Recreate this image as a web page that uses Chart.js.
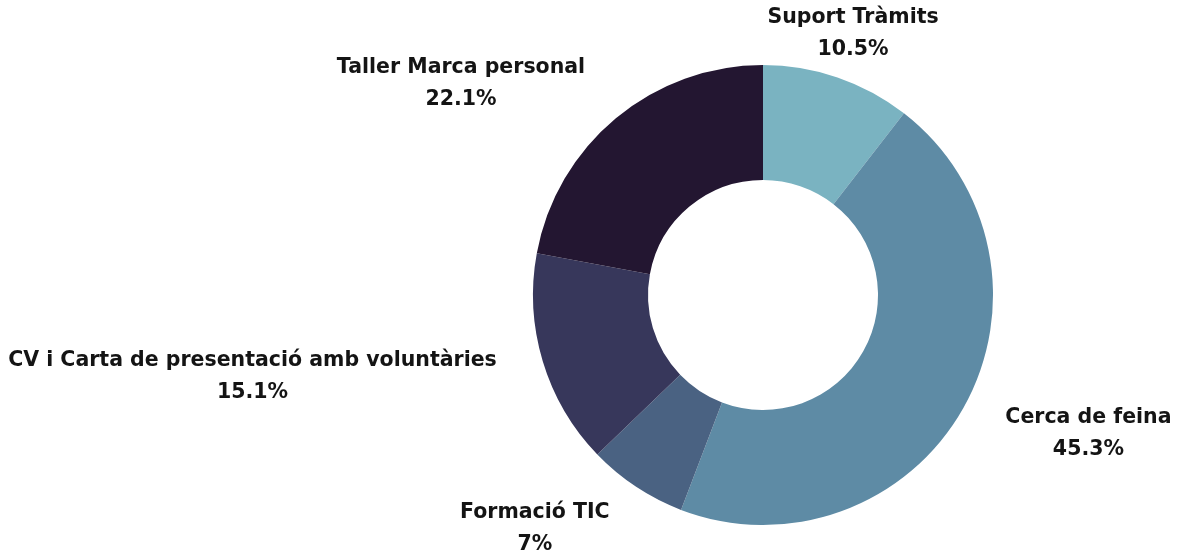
<!DOCTYPE html>
<html>
<head>
<meta charset="utf-8">
<script src="https://cdn.jsdelivr.net/npm/chart.js@4.4.1/dist/chart.umd.min.js"></script>
<style>
    html, body { margin: 0; padding: 0; background: #fff; }
    #wrap { width: 1188px; height: 556px; position: relative; }
</style>
</head>
<body>
<div id="wrap"><canvas id="serveisChart"></canvas></div>
<script>
const categories = ["Suport Tràmits", "Cerca de feina", "Formació TIC", "CV i Carta de presentació amb voluntàries", "Taller Marca personal"];
const percentages = [10.5, 45.3, 7, 15.1, 22.1];
const sliceColors = ["#7AB3C1", "#5E8BA5", "#4A6282", "#37375B", "#231631"];

const labelFont = "bold 20.5px 'DejaVu Sans', sans-serif";

// draws the two-line label outside each slice
const outsideLabels = {
    id: "outsideLabels",
    afterDatasetsDraw(chart) {
        const ctx = chart.ctx;
        const arcs = chart.getDatasetMeta(0).data;
        ctx.save();
        ctx.font = labelFont;
        ctx.fillStyle = "#141414";
        ctx.textBaseline = "middle";
        arcs.forEach(function (arc, i) {
            const p = arc.getProps(["x", "y", "startAngle", "endAngle", "outerRadius"], true);
            const mid = (p.startAngle + p.endAngle) / 2;
            const ux = Math.cos(mid);
            const uy = Math.sin(mid);
            const dist = p.outerRadius + 48;
            const px = p.x + ux * dist;
            const py = p.y + uy * dist + 2;
            if (Math.abs(ux) < 0.45) {
                ctx.textAlign = "center";
            } else {
                ctx.textAlign = ux > 0 ? "left" : "right";
            }
            const first = ctx.measureText(categories[i]).width;
            const second = ctx.measureText(percentages[i] + "%").width;
            let x2 = px;
            if (ctx.textAlign === "left") x2 = px + (first - second) / 2;
            if (ctx.textAlign === "right") x2 = px - (first - second) / 2;
            ctx.fillText(categories[i], px, py - 16);
            ctx.fillText(percentages[i] + "%", x2, py + 16);
        });
        ctx.restore();
    }
};

const serveisChart = document.getElementById("serveisChart").getContext("2d");

new Chart(serveisChart, {
    type: "doughnut",
    data: {
        labels: categories,
        datasets: [
            {
                label: "",
                data: percentages,
                backgroundColor: sliceColors,
                borderWidth: 0,
                hoverOffset: 0,
            },
        ],
    },
    options: {
        responsive: true,
        maintainAspectRatio: false,
        animation: false,
        cutout: "50%",
        layout: {
            padding: { left: 533, right: 195, top: 65, bottom: 31 },
        },
        plugins: {
            legend: { display: false },
            tooltip: { enabled: false },
        },
    },
    plugins: [outsideLabels],
});
</script>
</body>
</html>
